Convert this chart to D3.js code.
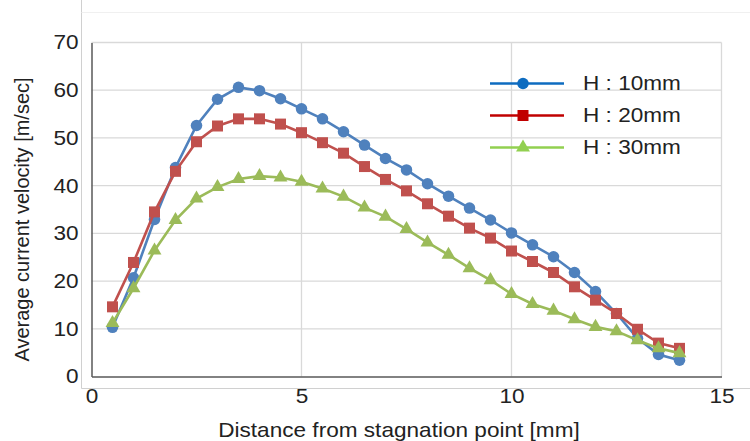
<!DOCTYPE html>
<html><head><meta charset="utf-8">
<script src="https://cdn.jsdelivr.net/npm/d3@7"></script>
<style>body{margin:0;background:#fff}svg{display:block}text{font-family:"Liberation Sans",Arial,sans-serif;fill:#222}</style>
</head><body><svg id="c" width="750" height="441"></svg>
<script>
const xValues = [0.5,1,1.5,2,2.5,3,3.5,4,4.5,5,5.5,6,6.5,7,7.5,8,8.5,9,9.5,10,10.5,11,11.5,12,12.5,13,13.5,14];
const h10 = [10.3,20.7,32.9,43.8,52.6,58.1,60.6,59.9,58.2,56.1,54.0,51.3,48.5,45.7,43.3,40.4,37.8,35.3,32.8,30.1,27.6,25.1,21.8,17.8,13.2,8.0,4.6,3.4];
const h20 = [14.6,23.9,34.5,43.0,49.2,52.5,54.0,54.0,52.9,51.1,49.0,46.8,44.0,41.3,38.9,36.2,33.6,31.1,29.0,26.3,24.1,21.8,18.8,16.0,13.2,9.9,7.0,5.9];
const h30 = [11.2,18.5,26.4,32.8,37.3,39.7,41.4,42.0,41.7,40.8,39.4,37.7,35.4,33.5,30.9,28.1,25.5,22.7,20.2,17.3,15.2,13.8,12.0,10.4,9.5,7.6,5.9,4.9];
const seriesNames = ["H : 10mm","H : 20mm","H : 30mm"];
const xTicks = [0,5,10,15];
const yTicks = [0,10,20,30,40,50,60,70];
const xTitle = "Distance from stagnation point [mm]";
const yTitle = "Average current velocity [m/sec]";

const series = [
  {name: seriesNames[0], values: h10, color: "#4F81BD", legendColor: "#0E6CC0", shape: d3.symbolCircle, size: 104},
  {name: seriesNames[1], values: h20, color: "#C0504D", legendColor: "#C00000", shape: d3.symbolSquare, size: 121},
  {name: seriesNames[2], values: h30, color: "#9BBB59", legendColor: "#92D050", shape: d3.symbolTriangle, size: 84}
];

const SX = 1.13; // horizontal stretch of the text in the reference
const svg = d3.select("#c");
const L = 91.5, R = 721.5, T = 42.5, B = 376.5;
const x = d3.scaleLinear().domain([0,15]).range([L,R]);
const y = d3.scaleLinear().domain([0,70]).range([B,T]);

function stretch(sel){
  sel.each(function(){
    const t = d3.select(this);
    const tx = +t.attr("x") || 0;
    t.attr("transform", `translate(${tx},0) scale(${SX},1) translate(${-tx},0)`);
  });
}

// outer light box (sheet border)
svg.append("line").attr("x1",81.5).attr("x2",81.5).attr("y1",0).attr("y2",388.5).attr("stroke","#d0d0d0");
svg.append("line").attr("x1",81.5).attr("x2",750).attr("y1",388.5).attr("y2",388.5).attr("stroke","#d0d0d0");
svg.append("line").attr("x1",81.5).attr("x2",750).attr("y1",12.5).attr("y2",12.5).attr("stroke","#f0f0f0");

// gridlines
svg.append("g").selectAll("line").data(yTicks.filter(d=>d>0)).join("line")
  .attr("x1",L).attr("x2",R).attr("y1",d=>y(d)).attr("y2",d=>y(d)).attr("stroke","#d9d9d9").attr("stroke-width",1.3);
svg.append("g").selectAll("line").data(xTicks.filter(d=>d>0)).join("line")
  .attr("x1",d=>x(d)).attr("x2",d=>x(d)).attr("y1",T).attr("y2",B).attr("stroke","#d9d9d9").attr("stroke-width",1.3);

// axes
const xAxis = d3.axisBottom(x).tickValues(xTicks).tickSize(0).tickPadding(12);
const gx = svg.append("g").attr("transform",`translate(0,${B})`).call(xAxis);
gx.select(".domain").attr("stroke","#595959").attr("stroke-width",1.5);
gx.selectAll("text").attr("font-size",20).attr("fill","#222").attr("font-family","Liberation Sans, Arial, sans-serif").call(stretch);
const yAxis = d3.axisLeft(y).tickValues(yTicks).tickSize(0).tickPadding(13);
const gy = svg.append("g").attr("transform",`translate(${L},0)`).call(yAxis);
gy.select(".domain").attr("stroke","#595959").attr("stroke-width",1.5);
gy.selectAll("text").attr("font-size",20).attr("fill","#222").attr("font-family","Liberation Sans, Arial, sans-serif").call(stretch);

// titles
svg.append("text").attr("x",399).attr("y",437).attr("text-anchor","middle").attr("font-size",20).text(xTitle).call(stretch);
svg.append("text").attr("transform",`translate(29,${(T+B)/2+10}) rotate(-90)`).attr("text-anchor","middle").attr("font-size",20).text(yTitle);

// series
const line = d3.line().x((d,i)=>x(xValues[i])).y(d=>y(d));
series.forEach(s=>{
  const g = svg.append("g");
  g.append("path").datum(s.values).attr("d",line).attr("fill","none").attr("stroke",s.color).attr("stroke-width",2.6);
  g.selectAll("path.m").data(s.values).join("path").attr("class","m")
    .attr("d",d3.symbol().type(s.shape).size(s.size))
    .attr("transform",(d,i)=>`translate(${x(xValues[i])},${y(d)})`)
    .attr("fill",s.color);
});

// legend
const lg = svg.append("g");
series.forEach((s,i)=>{
  const yy = 83.5 + i*32;
  lg.append("line").attr("x1",490).attr("x2",564).attr("y1",yy).attr("y2",yy).attr("stroke",s.legendColor).attr("stroke-width",2.6);
  lg.append("path").attr("d",d3.symbol().type(s.shape).size(s.size)).attr("transform",`translate(523,${yy})`).attr("fill",s.legendColor);
  lg.append("text").attr("x",583).attr("y",yy+7).attr("font-size",20).style("white-space","pre").text(s.name).call(stretch);
});
</script></body></html>
